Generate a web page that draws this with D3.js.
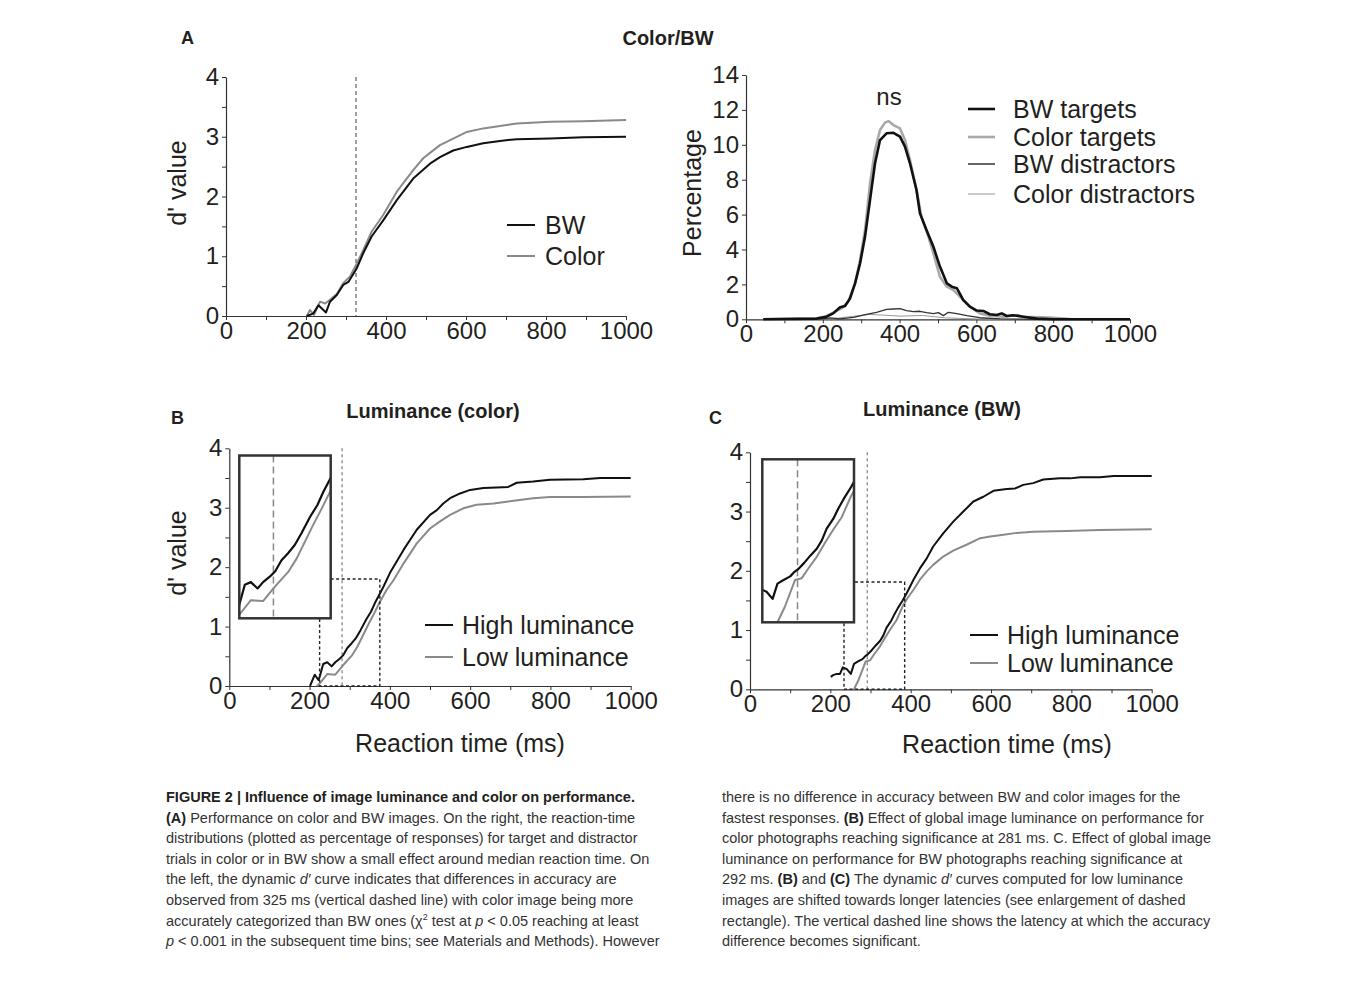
<!DOCTYPE html>
<html><head><meta charset="utf-8">
<script src="https://cdn.jsdelivr.net/npm/d3@7"></script>
<style>
body{margin:0;background:#fff;}
svg text{font-family:"Liberation Sans",Arial,Helvetica,sans-serif;}
</style></head>
<body><svg id="fig" width="1354" height="999"></svg>
<script>
// ---------- DATA ----------
const msTicks = [0,200,400,600,800,1000];
const dTicks = [0,1,2,3,4];
const pctTicks = [0,2,4,6,8,10,12,14];

// Panel A left: d' curves (ms, d')
const aBW = [[202,0],[218,0.04],[231,0.18],[250,0.06],[260,0.24],[277,0.35],[293,0.52],[306,0.57],[327,0.8],[343,1.05],[364,1.33],[393,1.6],[427,1.94],[468,2.3],[510,2.55],[535,2.66],[568,2.77],[602,2.83],[643,2.89],[685,2.93],[727,2.96],[810,2.97],[893,2.99],[1000,3.0]];
const aColor = [[202,0],[210,0.1],[220,0.02],[235,0.24],[248,0.21],[260,0.27],[277,0.37],[293,0.55],[310,0.66],[327,0.88],[343,1.1],[364,1.41],[393,1.69],[427,2.08],[468,2.44],[493,2.64],[510,2.73],[535,2.86],[568,2.97],[602,3.08],[643,3.14],[685,3.18],[727,3.22],[810,3.25],[893,3.26],[1000,3.28]];
const aSignif = 325;
const aLegend = ["BW","Color"];

// Panel A right: RT distributions (ms, %)
const bwTargets = [[45,0],[184,0.04],[210,0.15],[227,0.34],[245,0.69],[258,0.76],[271,1.2],[284,2.06],[297,3.2],[310,4.74],[323,6.84],[336,8.94],[349,10.27],[366,10.66],[384,10.69],[401,10.47],[414,9.9],[427,8.94],[444,7.41],[453,6.07],[470,5.12],[488,4.16],[505,3.02],[523,2.06],[536,1.87],[549,1.78],[566,1.1],[583,0.73],[601,0.5],[618,0.48],[635,0.29],[653,0.25],[666,0.34],[679,0.19],[696,0.23],[722,0.15],[757,0.04],[800,0],[1000,0]];
const colorTargets = [[45,0],[184,0.04],[210,0.19],[232,0.44],[249,0.63],[266,1.01],[284,2.06],[297,3.4],[310,5.12],[323,7.79],[336,9.7],[349,10.85],[362,11.27],[371,11.36],[384,11.13],[401,10.94],[414,10.27],[427,9.13],[444,7.41],[457,5.88],[475,4.74],[488,3.78],[505,2.44],[523,1.87],[540,1.68],[557,1.3],[583,0.73],[609,0.34],[635,0.21],[670,0.15],[705,0.25],[722,0.15],[792,0.1],[844,0.02],[1000,0]];
const bwDistractors = [[45,0],[200,0.02],[220,0.08],[245,0.03],[280,0.11],[314,0.28],[340,0.4],[366,0.57],[384,0.59],[401,0.61],[418,0.5],[436,0.44],[453,0.46],[470,0.38],[488,0.32],[501,0.38],[514,0.21],[527,0.4],[549,0.32],[575,0.21],[609,0.09],[662,0.02],[750,0],[1000,0]];
const colorDistractors = [[45,0],[200,0.02],[227,0.03],[250,0.1],[271,0.15],[297,0.22],[323,0.28],[349,0.25],[375,0.22],[401,0.18],[430,0.2],[460,0.22],[490,0.15],[520,0.08],[560,0.05],[600,0.02],[700,0],[1000,0]];
const distLegend = ["BW targets","Color targets","BW distractors","Color distractors"];

// Panel B: luminance (color)
const bHigh = [[201,0],[213,0.19],[222,0.1],[225,0.15],[234,0.37],[244,0.4],[255,0.33],[264,0.4],[275,0.46],[284,0.52],[294,0.64],[305,0.72],[316,0.81],[327,0.94],[341,1.12],[353,1.25],[363,1.4],[374,1.54],[384,1.67],[400,1.9],[434,2.29],[467,2.63],[500,2.88],[517,2.96],[533,3.07],[550,3.16],[575,3.24],[600,3.3],[633,3.33],[666,3.34],[695,3.35],[716,3.42],[757,3.44],[799,3.47],[882,3.48],[924,3.5],[1000,3.5]];
const bLow = [[218,0],[225,0.04],[244,0.2],[264,0.19],[275,0.28],[286,0.37],[305,0.51],[319,0.66],[333,0.85],[346,1.03],[360,1.21],[374,1.4],[392,1.62],[409,1.78],[434,2.06],[467,2.4],[500,2.65],[525,2.77],[550,2.88],[583,2.99],[616,3.05],[658,3.07],[691,3.1],[757,3.16],[799,3.18],[882,3.18],[1000,3.19]];
const bSignif = 281;
const bZoom = {x:[225,375], y:[0,1.8]};

// Panel C: luminance (BW)
const cHigh = [[201,0.21],[207,0.24],[216,0.26],[224,0.26],[231,0.37],[241,0.34],[251,0.26],[259,0.43],[269,0.47],[280,0.51],[287,0.56],[293,0.59],[303,0.66],[313,0.74],[324,0.82],[332,0.91],[340,1.04],[351,1.15],[359,1.26],[368,1.37],[380,1.5],[390,1.62],[407,1.85],[423,2.04],[440,2.21],[456,2.41],[481,2.63],[506,2.83],[531,3.0],[556,3.17],[581,3.25],[606,3.35],[639,3.38],[660,3.39],[680,3.45],[705,3.48],[730,3.54],[772,3.56],[797,3.56],[822,3.58],[871,3.58],[905,3.6],[1000,3.6]];
const cLow = [[259,0],[271,0.17],[288,0.47],[299,0.49],[310,0.6],[324,0.73],[337,0.88],[351,1.03],[365,1.17],[380,1.4],[390,1.52],[407,1.68],[423,1.85],[440,1.99],[456,2.1],[481,2.24],[506,2.34],[539,2.44],[573,2.55],[598,2.58],[622,2.6],[664,2.64],[705,2.66],[788,2.67],[871,2.69],[1000,2.7]];
const cSignif = 292;
const cZoom = {x:[234,385], y:[0,1.81]};
const lumLegend = ["High luminance","Low luminance"];

// ---------- DRAWING ----------
const svg = d3.select("#fig");
svg.append("rect").attr("width",1354).attr("height",999).attr("fill","#fff");
const INK = "#231f20";

function axes(g, x, y, yVals, yLabelFn){
  const ax = g.append("g").attr("transform",`translate(0,${y.range()[0]})`)
    .call(d3.axisBottom(x).tickValues(d3.range(0,1001,100)).tickSize(4).tickSizeOuter(0).tickPadding(2)
      .tickFormat(d => msTicks.includes(d) ? d : ""));
  const ay = g.append("g").attr("transform",`translate(${x.range()[0]},0)`)
    .call(d3.axisLeft(y).tickValues(yVals).tickSize(4).tickSizeOuter(0).tickPadding(3)
      .tickFormat(yLabelFn));
  [ax,ay].forEach(a=>{
    a.select(".domain").attr("stroke","#333").attr("stroke-width",1.2);
    a.selectAll(".tick line").attr("stroke","#333").attr("stroke-width",1);
    a.selectAll("text").attr("font-size",24).attr("fill",INK).attr("font-family","Liberation Sans, Arial, sans-serif");
  });
}
function path(g, data, x, y, color, w){
  return g.append("path").datum(data).attr("fill","none").attr("stroke",color).attr("stroke-width",w)
    .attr("stroke-linejoin","round").attr("d", d3.line().x(d=>x(d[0])).y(d=>y(d[1])));
}
function legend(g, items, x1, x2, tx, ys, colors, widths){
  items.forEach((t,i)=>{
    g.append("line").attr("x1",x1).attr("x2",x2).attr("y1",ys[i]).attr("y2",ys[i])
      .attr("stroke",colors[i]).attr("stroke-width",widths[i]);
    g.append("text").attr("x",tx).attr("y",ys[i]).attr("dy","0.36em").attr("font-size",25).attr("fill",INK).text(t);
  });
}
function ylab(g, txt, cx, cy){
  g.append("text").attr("transform",`translate(${cx},${cy}) rotate(-90)`).attr("text-anchor","middle")
    .attr("dy","0.35em").attr("font-size",25).attr("fill",INK).text(txt);
}
function xlab(g, txt, cx, cy){
  g.append("text").attr("x",cx).attr("y",cy).attr("text-anchor","middle").attr("dy","0.35em")
    .attr("font-size",25).attr("fill",INK).text(txt);
}
function boldText(g, txt, x, y, size, anchor){
  g.append("text").attr("x",x).attr("y",y).attr("text-anchor",anchor||"start").attr("font-weight","bold")
    .attr("font-size",size).attr("fill",INK).text(txt);
}

// Panel A left
{
  const g = svg.append("g");
  const x = d3.scaleLinear().domain([0,1000]).range([226,626]);
  const y = d3.scaleLinear().domain([0,4]).range([316,77]);
  axes(g,x,y,d3.range(0,4.01,0.5), d => Number.isInteger(d) ? d : "");
  g.append("line").attr("x1",x(aSignif)).attr("x2",x(aSignif)).attr("y1",y(4)).attr("y2",y(0))
    .attr("stroke","#777").attr("stroke-width",1.4).attr("stroke-dasharray","4,3");
  path(g,aColor,x,y,"#8a8a8a",2);
  path(g,aBW,x,y,"#111",2);
  legend(g,aLegend,507,535,545,[225,256],["#111","#8a8a8a"],[2,2]);
  ylab(g,"d' value",177,183);
  boldText(g,"A",181,44,18);
  boldText(g,"Color/BW",668,45,20,"middle");
}
// Panel A right
{
  const g = svg.append("g");
  const x = d3.scaleLinear().domain([0,1000]).range([746,1130]);
  const y = d3.scaleLinear().domain([0,14]).range([319.3,75]);
  axes(g,x,y,pctTicks, d=>d);
  path(g,colorDistractors,x,y,"#999",1);
  path(g,bwDistractors,x,y,"#333",1.3);
  path(g,colorTargets,x,y,"#a7a9ac",2.6);
  path(g,bwTargets,x,y,"#111",2.6);
  legend(g,distLegend,968,995,1013,[109,137,164,194],["#111","#a7a9ac","#666","#a7a9ac"],[2.6,2.6,2,1.2]);
  g.append("text").attr("x",889).attr("y",105).attr("text-anchor","middle").attr("font-size",24).attr("fill",INK).text("ns");
  ylab(g,"Percentage",692,193);
}
function lumPanel(cfg){
  const g = svg.append("g");
  const x = d3.scaleLinear().domain([0,1000]).range(cfg.xr);
  const y = d3.scaleLinear().domain([0,4]).range(cfg.yr);
  axes(g,x,y,d3.range(0,4.01,0.5), d => Number.isInteger(d) ? d : "");
  g.append("line").attr("x1",x(cfg.sig)).attr("x2",x(cfg.sig)).attr("y1",y(4)).attr("y2",y(0))
    .attr("stroke","#888").attr("stroke-width",1.3).attr("stroke-dasharray","3,3");
  path(g,cfg.low,x,y,"#8a8a8a",2);
  path(g,cfg.high,x,y,"#111",2);
  g.append("rect").attr("x",x(cfg.zoom.x[0])).attr("y",y(cfg.zoom.y[1]))
    .attr("width",x(cfg.zoom.x[1])-x(cfg.zoom.x[0])).attr("height",y(cfg.zoom.y[0])-y(cfg.zoom.y[1]))
    .attr("fill","none").attr("stroke","#222").attr("stroke-width",1.4).attr("stroke-dasharray","3,2.5");
  const ib = cfg.inset;
  const ix = d3.scaleLinear().domain(cfg.zoom.x).range([ib[0],ib[2]]);
  const iy = d3.scaleLinear().domain(cfg.zoom.y).range([ib[3],ib[1]]);
  g.append("rect").attr("x",ib[0]).attr("y",ib[1]).attr("width",ib[2]-ib[0]).attr("height",ib[3]-ib[1])
    .attr("fill","#fff").attr("stroke","none");
  const cid = "clip"+cfg.id;
  g.append("clipPath").attr("id",cid).append("rect").attr("x",ib[0]).attr("y",ib[1]).attr("width",ib[2]-ib[0]).attr("height",ib[3]-ib[1]);
  const gi = g.append("g").attr("clip-path",`url(#${cid})`);
  gi.append("line").attr("x1",ix(cfg.sig)).attr("x2",ix(cfg.sig)).attr("y1",ib[1]).attr("y2",ib[3])
    .attr("stroke","#888").attr("stroke-width",1.5).attr("stroke-dasharray","7,4");
  path(gi,cfg.low,ix,iy,"#8a8a8a",2);
  path(gi,cfg.high,ix,iy,"#111",2.2);
  g.append("rect").attr("x",ib[0]).attr("y",ib[1]).attr("width",ib[2]-ib[0]).attr("height",ib[3]-ib[1])
    .attr("fill","none").attr("stroke","#333").attr("stroke-width",2.5);
  legend(g,lumLegend,cfg.leg[0],cfg.leg[1],cfg.leg[2],cfg.legY,["#111","#8a8a8a"],[2,2]);
  xlab(g,"Reaction time (ms)",cfg.xlab[0],cfg.xlab[1]);
  if(cfg.ylab) ylab(g,"d' value",cfg.ylab[0],cfg.ylab[1]);
  boldText(g,cfg.letter,cfg.letterPos[0],cfg.letterPos[1],18);
  boldText(g,cfg.title,cfg.titlePos[0],cfg.titlePos[1],20,"middle");
}
lumPanel({id:"B",xr:[229.3,630.7],yr:[686,448.3],sig:bSignif,high:bHigh,low:bLow,zoom:bZoom,
  inset:[239.3,455.5,330.7,618.3],leg:[425,453,462],legY:[625,657],xlab:[460,743],ylab:[177,553],
  letter:"B",letterPos:[171,424],title:"Luminance (color)",titlePos:[433,418]});
lumPanel({id:"C",xr:[750,1151.7],yr:[689.3,452.3],sig:cSignif,high:cHigh,low:cLow,zoom:cZoom,
  inset:[762.3,459.3,854,622.3],leg:[970,998,1007],legY:[635,663],xlab:[1007,744],ylab:null,
  letter:"C",letterPos:[709,424],title:"Luminance (BW)",titlePos:[942,416]});

// ---------- CAPTION ----------
const capLeft = [
  [["b","FIGURE 2 | Influence of image luminance and color on performance."]],
  [["b","(A)"],["n"," Performance on color and BW images. On the right, the reaction-time"]],
  [["n","distributions (plotted as percentage of responses) for target and distractor"]],
  [["n","trials in color or in BW show a small effect around median reaction time. On"]],
  [["n","the left, the dynamic "],["i","d′"],["n"," curve indicates that differences in accuracy are"]],
  [["n","observed from 325 ms (vertical dashed line) with color image being more"]],
  [["n","accurately categorized than BW ones (χ"],["s","2"],["r"," test at "],["i","p"],["n"," < 0.05 reaching at least"]],
  [["i","p"],["n"," < 0.001 in the subsequent time bins; see Materials and Methods). However"]]
];
const capRight = [
  [["n","there is no difference in accuracy between BW and color images for the"]],
  [["n","fastest responses. "],["b","(B)"],["n"," Effect of global image luminance on performance for"]],
  [["n","color photographs reaching significance at 281 ms. C. Effect of global image"]],
  [["n","luminance on performance for BW photographs reaching significance at"]],
  [["n","292 ms. "],["b","(B)"],["n"," and "],["b","(C)"],["n"," The dynamic "],["i","d′"],["n"," curves computed for low luminance"]],
  [["n","images are shifted towards longer latencies (see enlargement of dashed"]],
  [["n","rectangle). The vertical dashed line shows the latency at which the accuracy"]],
  [["n","difference becomes significant."]]
];
function caption(lines, x0, y0, lh){
  const g = svg.append("g");
  lines.forEach((segs,i)=>{
    const t = g.append("text").attr("x",x0).attr("y",y0+i*lh).attr("font-size",14.5).attr("fill","#333");
    segs.forEach(([k,s])=>{
      const ts = t.append("tspan").text(s);
      if(k==="b") ts.attr("font-weight","bold").attr("fill",INK);
      if(k==="i") ts.attr("font-style","italic");
      if(k==="s") ts.attr("font-size",9).attr("dy",-6);
      if(k==="r") ts.attr("dy",6);
    });
  });
}
caption(capLeft,166,802,20.6);
caption(capRight,722,802,20.6);
</script></body></html>
